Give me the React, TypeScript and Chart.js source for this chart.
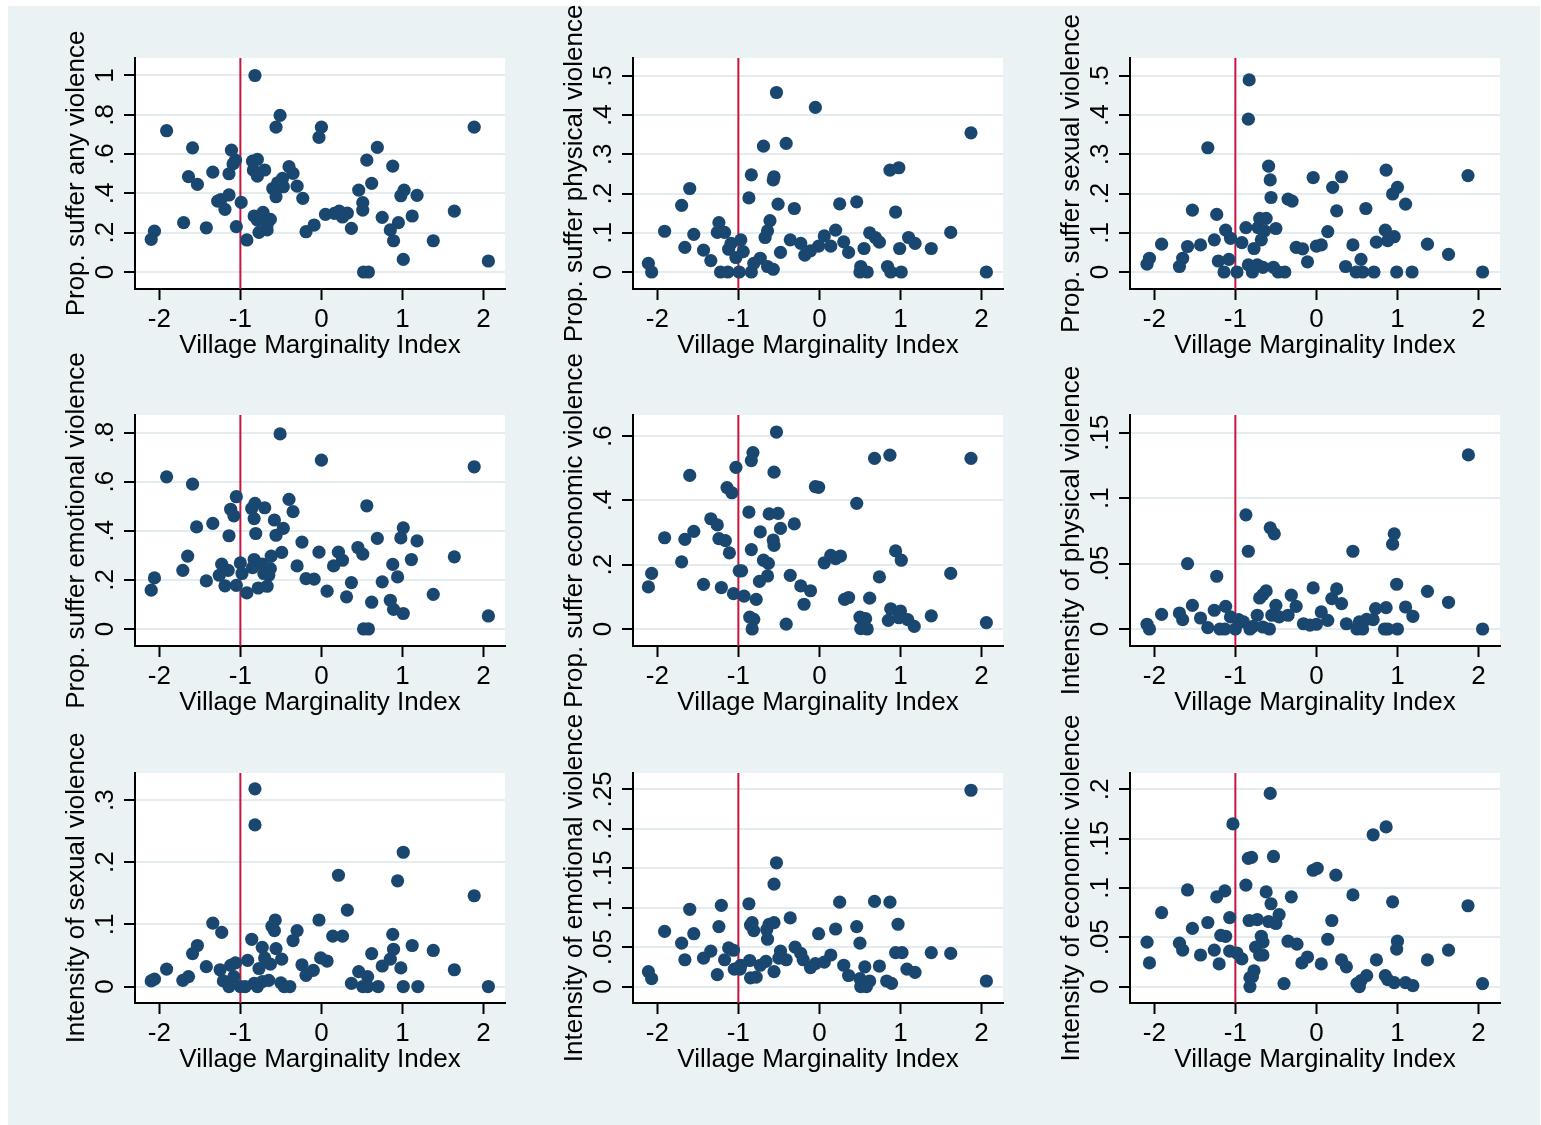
import React, { useEffect, useRef } from 'react';
import { Chart, registerables } from 'chart.js';

Chart.register(...registerables);

// ---------- data ----------
const xTicks = [-2, -1, 0, 1, 2];
const xTickLabels = ['-2', '-1', '0', '1', '2'];
const xTitle = 'Village Marginality Index';
const cutoff = -1;

const anyViolence: [number, number][] = [
  [-0.82, 1.0], [-0.51, 0.797], [-0.56, 0.737], [0.0, 0.737], [-0.03, 0.685], [1.885, 0.737], [-1.91, 0.719],
  [-1.59, 0.632], [-1.11, 0.62], [0.69, 0.634], [-1.06, 0.569], [-1.09, 0.55], [-1.14, 0.5], [-1.34, 0.508],
  [-1.64, 0.485], [-1.53, 0.446], [-0.85, 0.564], [-0.79, 0.573], [-0.84, 0.519], [-0.79, 0.488], [-0.7, 0.519],
  [-0.4, 0.536], [-0.35, 0.502], [-0.48, 0.476], [-0.54, 0.454], [-0.47, 0.434], [-0.6, 0.425], [-0.3, 0.437],
  [-0.56, 0.383], [-0.23, 0.375], [0.56, 0.569], [0.88, 0.539], [0.62, 0.451], [0.46, 0.417], [0.51, 0.353],
  [0.51, 0.315], [1.02, 0.417], [0.98, 0.388], [1.18, 0.39], [1.64, 0.31], [1.12, 0.285], [0.75, 0.278],
  [0.95, 0.251], [0.85, 0.214], [0.89, 0.159], [1.38, 0.159], [1.01, 0.064], [2.06, 0.056], [0.52, 0], [0.58, 0],
  [0.05, 0.293], [0.16, 0.298], [0.22, 0.31], [0.32, 0.3], [0.26, 0.28], [0.37, 0.222], [-0.09, 0.239],
  [-0.19, 0.205], [-0.99, 0.354], [-1.14, 0.392], [-1.24, 0.369], [-1.28, 0.361], [-1.19, 0.319], [-1.7, 0.251],
  [-1.42, 0.225], [-1.05, 0.231], [-0.92, 0.163], [-2.06, 0.208], [-2.1, 0.166], [-0.83, 0.285], [-0.79, 0.264],
  [-0.72, 0.303], [-0.63, 0.268], [-0.77, 0.202], [-0.67, 0.214], [-0.67, 0.239],
];

const physicalProp: [number, number][] = [
  [-0.53, 0.458], [-0.05, 0.42], [1.87, 0.355], [-0.69, 0.321], [-0.41, 0.328], [0.87, 0.26], [0.98, 0.266],
  [-0.84, 0.248], [-0.56, 0.243], [-0.57, 0.235], [-1.6, 0.213], [-1.7, 0.17], [-0.87, 0.189], [-0.51, 0.173],
  [-0.31, 0.162], [0.25, 0.174], [0.46, 0.179], [0.94, 0.153], [-1.24, 0.126], [-1.26, 0.101], [-1.17, 0.101],
  [-1.91, 0.104], [-1.55, 0.096], [-0.61, 0.131], [-0.64, 0.105], [-0.67, 0.088], [-0.97, 0.082], [-1.09, 0.073],
  [-1.12, 0.058], [-0.94, 0.052], [-1.03, 0.037], [-1.43, 0.056], [-1.66, 0.063], [-1.34, 0.029], [-2.11, 0.022],
  [-2.07, 0], [-1.22, 0], [-1.13, 0], [-0.99, 0], [-0.84, 0], [-0.81, 0.022], [-0.73, 0.035], [-0.64, 0.014],
  [-0.57, 0.007], [-0.48, 0.05], [-0.36, 0.082], [-0.23, 0.073], [-0.18, 0.043], [-0.11, 0.054], [-0.01, 0.066],
  [0.06, 0.092], [0.14, 0.066], [0.2, 0.107], [0.3, 0.077], [0.36, 0.05], [0.55, 0.06], [0.51, 0.014], [0.5, 0],
  [0.59, 0], [0.62, 0.1], [0.69, 0.088], [0.74, 0.076], [0.84, 0.014], [0.88, 0], [1.01, 0], [0.99, 0.06],
  [1.1, 0.088], [1.18, 0.073], [1.38, 0.06], [1.62, 0.101], [2.06, 0],
];

const sexualProp: [number, number][] = [
  [-0.83, 0.49], [-0.84, 0.39], [-1.34, 0.317], [-0.59, 0.27], [-0.57, 0.235], [-0.56, 0.19], [-0.04, 0.241],
  [0.31, 0.243], [0.2, 0.216], [0.86, 0.26], [1.87, 0.246], [1.0, 0.216], [0.94, 0.199], [1.1, 0.173],
  [-0.35, 0.186], [-0.3, 0.181], [-1.53, 0.158], [-1.23, 0.147], [0.25, 0.156], [0.61, 0.162], [-0.7, 0.137],
  [-0.62, 0.137], [-0.87, 0.113], [-0.72, 0.113], [-0.5, 0.111], [-0.64, 0.105], [-1.12, 0.107], [-1.06, 0.086],
  [0.14, 0.103], [0.85, 0.107], [0.96, 0.09], [0.88, 0.08], [0.74, 0.076], [1.37, 0.071], [0.45, 0.069],
  [0.0, 0.066], [0.06, 0.069], [-0.25, 0.063], [-0.17, 0.059], [-0.11, 0.026], [-0.68, 0.082], [-0.77, 0.06],
  [-0.92, 0.075], [-1.26, 0.082], [-1.43, 0.069], [-1.59, 0.065], [-1.91, 0.071], [-1.65, 0.035], [-1.69, 0.014],
  [-2.06, 0.035], [-2.09, 0.02], [-1.21, 0.028], [-1.08, 0.032], [-1.14, 0], [-0.98, 0], [-0.84, 0.018],
  [-0.79, 0], [-0.73, 0.018], [-0.66, 0.012], [-0.53, 0.012], [-0.47, 0], [-0.39, 0], [0.36, 0.014],
  [0.55, 0.032], [0.49, 0], [0.57, 0], [0.71, 0], [0.99, 0], [1.18, 0], [1.63, 0.045], [2.05, 0],
];

const emotionalProp: [number, number][] = [
  [-0.51, 0.795], [0.0, 0.688], [1.885, 0.661], [-1.91, 0.62], [-1.59, 0.59], [-1.05, 0.539], [-1.12, 0.488],
  [-1.08, 0.461], [-1.14, 0.38], [-1.34, 0.43], [-1.54, 0.416], [-1.65, 0.297], [-1.71, 0.239], [-1.42, 0.196],
  [-2.06, 0.208], [-2.1, 0.158], [-0.82, 0.512], [-0.86, 0.491], [-0.7, 0.494], [-0.83, 0.45], [-0.81, 0.389],
  [-0.4, 0.528], [-0.35, 0.478], [-0.58, 0.444], [-0.47, 0.41], [-0.56, 0.382], [-0.24, 0.354], [-0.49, 0.312],
  [-0.62, 0.297], [-0.03, 0.313], [0.56, 0.502], [0.69, 0.369], [0.45, 0.332], [0.51, 0.305], [0.21, 0.313],
  [0.26, 0.28], [0.15, 0.257], [-0.3, 0.257], [1.01, 0.412], [0.98, 0.371], [1.18, 0.359], [1.64, 0.294],
  [1.11, 0.283], [0.88, 0.263], [0.94, 0.212], [0.75, 0.192], [0.37, 0.189], [-0.19, 0.205], [-0.09, 0.203],
  [0.07, 0.154], [0.31, 0.131], [0.62, 0.109], [0.85, 0.117], [0.89, 0.08], [1.01, 0.063], [1.38, 0.141],
  [2.06, 0.053], [0.52, 0], [0.58, 0], [-1.0, 0.269], [-0.98, 0.226], [-1.05, 0.178], [-0.92, 0.147],
  [-1.23, 0.264], [-1.15, 0.239], [-1.26, 0.219], [-1.19, 0.176], [-0.83, 0.283], [-0.85, 0.25], [-0.73, 0.264],
  [-0.63, 0.246], [-0.71, 0.226], [-0.65, 0.219], [-0.78, 0.167], [-0.67, 0.174],
];

const economicProp: [number, number][] = [
  [-0.53, 0.613], [-0.82, 0.549], [-0.84, 0.524], [0.87, 0.541], [0.68, 0.531], [1.87, 0.531], [-1.6, 0.478],
  [-1.03, 0.503], [-0.56, 0.488], [-1.14, 0.44], [-1.08, 0.424], [-0.05, 0.443], [-0.01, 0.441], [0.46, 0.391],
  [-0.87, 0.364], [-0.62, 0.358], [-0.51, 0.36], [-1.34, 0.343], [-1.26, 0.324], [-0.31, 0.327], [-0.48, 0.313],
  [-0.73, 0.302], [-1.55, 0.304], [-1.91, 0.284], [-1.66, 0.279], [-1.24, 0.281], [-1.16, 0.275], [-0.57, 0.277],
  [-0.56, 0.26], [-0.84, 0.247], [-1.11, 0.237], [0.94, 0.243], [1.01, 0.214], [-0.69, 0.214], [-0.63, 0.204],
  [0.06, 0.206], [0.14, 0.229], [0.2, 0.219], [0.26, 0.227], [-1.7, 0.209], [-2.07, 0.173], [-2.11, 0.131],
  [-0.99, 0.181], [-0.96, 0.181], [-0.64, 0.165], [-0.74, 0.148], [-0.36, 0.167], [-0.23, 0.134], [-0.11, 0.119],
  [-0.19, 0.077], [-1.43, 0.139], [-1.21, 0.129], [-1.06, 0.11], [-0.93, 0.102], [-0.78, 0.092], [1.62, 0.173],
  [0.74, 0.162], [0.31, 0.092], [0.36, 0.098], [0.62, 0.096], [0.88, 0.063], [1.0, 0.056], [1.38, 0.041],
  [0.98, 0.035], [1.09, 0.029], [0.85, 0.027], [1.17, 0.008], [2.06, 0.02], [0.5, 0.037], [0.57, 0.032],
  [0.51, 0.001], [0.59, 0], [-0.86, 0.037], [-0.81, 0.03], [-0.83, 0], [-0.41, 0.015],
];

const physicalIntensity: [number, number][] = [
  [1.875, 0.133], [-0.87, 0.0872], [-0.84, 0.0594], [-0.57, 0.0773], [-0.52, 0.0727], [0.96, 0.0727],
  [0.94, 0.0648], [0.45, 0.0594], [-1.59, 0.05], [-1.23, 0.0403], [0.99, 0.0342], [-0.04, 0.0314], [0.25, 0.0306],
  [1.37, 0.0288], [-0.62, 0.0291], [-0.66, 0.0263], [-0.7, 0.0237], [-0.31, 0.0258], [1.63, 0.0204],
  [0.19, 0.0232], [0.31, 0.0194], [-0.25, 0.0173], [-0.5, 0.0181], [-1.53, 0.0181], [-1.12, 0.0173],
  [1.1, 0.0168], [0.86, 0.0163], [0.73, 0.0156], [-1.26, 0.0143], [-1.69, 0.0122], [-1.91, 0.0112],
  [-1.65, 0.0071], [-1.43, 0.0084], [-2.09, 0.0036], [-2.06, 0], [-1.34, 0.001], [-1.19, 0], [-1.13, 0],
  [-1.06, 0.0092], [-1.0, 0], [-0.96, 0.0071], [-0.9, 0.0054], [-0.82, 0], [-0.78, 0.002], [-0.73, 0.0105],
  [-0.66, 0.0015], [-0.58, 0], [-0.55, 0.0105], [-0.46, 0.0092], [-0.35, 0.0105], [-0.16, 0.004], [-0.08, 0.003],
  [0.0, 0.0036], [0.06, 0.013], [0.14, 0.0066], [0.37, 0.004], [0.5, 0], [0.57, 0], [0.53, 0.0054],
  [0.62, 0.0074], [0.7, 0.0071], [0.84, 0], [0.88, 0], [1.0, 0], [1.19, 0.0097], [2.05, 0],
];

const sexualIntensity: [number, number][] = [
  [-0.82, 0.318], [-0.82, 0.26], [1.01, 0.216], [0.21, 0.179], [0.94, 0.17], [1.885, 0.146], [0.32, 0.123],
  [-0.03, 0.107], [-1.34, 0.102], [-0.57, 0.107], [-0.61, 0.097], [-0.58, 0.09], [-1.23, 0.087], [-0.3, 0.09],
  [-0.35, 0.074], [0.14, 0.081], [0.26, 0.081], [0.88, 0.084], [-0.86, 0.076], [-0.73, 0.063], [-0.56, 0.061],
  [-1.53, 0.066], [-1.59, 0.053], [0.62, 0.053], [1.12, 0.066], [1.38, 0.058], [0.89, 0.06], [0.85, 0.044],
  [-0.01, 0.046], [0.07, 0.041], [-0.49, 0.044], [-0.7, 0.046], [-0.63, 0.036], [-0.91, 0.042], [-1.06, 0.038],
  [-1.12, 0.034], [-0.77, 0.029], [-1.42, 0.032], [-0.24, 0.035], [-0.1, 0.026], [-0.19, 0.018], [-1.25, 0.027],
  [0.75, 0.033], [0.98, 0.03], [1.64, 0.027], [0.46, 0.024], [0.57, 0.016], [0.37, 0.005], [-1.91, 0.028],
  [-1.64, 0.016], [-1.71, 0.01], [-2.06, 0.012], [-2.1, 0.009], [-1.21, 0.009], [-1.08, 0.016], [-1.14, 0],
  [-1.0, 0], [-0.94, 0], [-0.83, 0.005], [-0.79, 0], [-0.73, 0.008], [-0.65, 0.01], [-0.5, 0.006], [-0.46, 0],
  [-0.39, 0], [0.51, 0], [0.57, 0], [0.7, 0], [1.01, 0], [1.19, 0], [2.06, 0],
];

const emotionalIntensity: [number, number][] = [
  [1.87, 0.249], [-0.53, 0.157], [-0.56, 0.13], [-1.21, 0.103], [-0.87, 0.105], [0.25, 0.107], [0.68, 0.108],
  [0.87, 0.107], [-1.6, 0.098], [-0.36, 0.087], [0.97, 0.079], [-0.83, 0.081], [-0.85, 0.078], [-0.81, 0.071],
  [-0.62, 0.079], [-0.56, 0.081], [-0.65, 0.072], [-0.64, 0.06], [-1.24, 0.076], [0.2, 0.073], [0.46, 0.076],
  [-1.91, 0.07], [-1.55, 0.067], [-0.01, 0.067], [-1.7, 0.055], [0.5, 0.055], [-1.12, 0.049], [-1.06, 0.046],
  [-0.3, 0.05], [-0.23, 0.042], [-0.48, 0.045], [0.14, 0.04], [0.94, 0.043], [1.02, 0.043], [1.38, 0.043],
  [1.62, 0.042], [-1.34, 0.045], [-1.43, 0.036], [-1.66, 0.034], [-1.17, 0.034], [-0.5, 0.036], [-0.41, 0.034],
  [-0.2, 0.034], [-0.86, 0.033], [-0.66, 0.032], [-0.73, 0.027], [-0.97, 0.027], [-1.05, 0.022], [-0.98, 0.022],
  [-0.05, 0.029], [0.06, 0.031], [-0.11, 0.024], [0.3, 0.027], [0.74, 0.026], [0.56, 0.025], [1.08, 0.022],
  [1.18, 0.018], [-0.56, 0.019], [-1.26, 0.015], [0.36, 0.014], [-0.78, 0.012], [-0.85, 0.011], [-2.11, 0.019],
  [-2.07, 0.01], [0.5, 0.01], [0.62, 0.007], [0.83, 0.007], [0.89, 0.004], [0.51, 0], [0.58, 0], [2.06, 0.007],
];

const economicIntensity: [number, number][] = [
  [-0.57, 0.196], [-1.03, 0.165], [0.86, 0.162], [0.7, 0.154], [-0.84, 0.13], [-0.8, 0.131], [-0.53, 0.132],
  [-0.04, 0.118], [0.01, 0.12], [0.24, 0.113], [-0.87, 0.103], [-1.59, 0.098], [-1.13, 0.097], [-1.23, 0.091],
  [-0.62, 0.096], [-0.31, 0.091], [0.45, 0.093], [-0.56, 0.084], [0.94, 0.086], [1.87, 0.082], [-1.91, 0.075],
  [-0.46, 0.073], [-1.07, 0.07], [-0.83, 0.067], [-0.73, 0.068], [-0.59, 0.066], [-0.5, 0.064], [0.19, 0.067],
  [-1.34, 0.065], [-1.53, 0.059], [-1.18, 0.052], [-1.12, 0.051], [-0.68, 0.051], [-0.66, 0.045], [-0.35, 0.046],
  [-0.24, 0.043], [0.14, 0.048], [1.0, 0.046], [0.99, 0.038], [-2.09, 0.045], [-1.69, 0.044], [-1.65, 0.037],
  [-1.26, 0.037], [1.63, 0.037], [-1.07, 0.036], [-0.98, 0.034], [-0.75, 0.04], [-0.7, 0.032], [-0.66, 0.032],
  [-1.43, 0.032], [-0.92, 0.028], [-0.11, 0.03], [0.31, 0.027], [0.74, 0.027], [1.37, 0.027], [-2.06, 0.024],
  [-1.2, 0.023], [-0.18, 0.024], [0.06, 0.023], [0.37, 0.02], [-0.77, 0.016], [-0.82, 0.009], [-0.79, 0.01],
  [-0.82, 0], [-0.4, 0.003], [0.62, 0.011], [0.55, 0.006], [0.5, 0.003], [0.53, 0], [0.85, 0.011], [0.88, 0.007],
  [0.96, 0.004], [1.1, 0.004], [1.19, 0.001], [2.05, 0.003],
];

const panelTitles = [
  'Prop. suffer any violence', 'Prop. suffer physical violence', 'Prop. suffer sexual violence',
  'Prop. suffer emotional violence', 'Prop. suffer economic violence', 'Intensity of physical violence',
  'Intensity of sexual violence', 'Intensity of emotional violence', 'Intensity of economic violence',
];
const panelData = [
  anyViolence, physicalProp, sexualProp, emotionalProp, economicProp, physicalIntensity,
  sexualIntensity, emotionalIntensity, economicIntensity,
];
const yTickValues = [
  [0, 0.2, 0.4, 0.6, 0.8, 1], [0, 0.1, 0.2, 0.3, 0.4, 0.5], [0, 0.1, 0.2, 0.3, 0.4, 0.5],
  [0, 0.2, 0.4, 0.6, 0.8], [0, 0.2, 0.4, 0.6], [0, 0.05, 0.1, 0.15],
  [0, 0.1, 0.2, 0.3], [0, 0.05, 0.1, 0.15, 0.2, 0.25], [0, 0.05, 0.1, 0.15, 0.2],
];
const yTickLabels = [
  ['0', '.2', '.4', '.6', '.8', '1'], ['0', '.1', '.2', '.3', '.4', '.5'], ['0', '.1', '.2', '.3', '.4', '.5'],
  ['0', '.2', '.4', '.6', '.8'], ['0', '.2', '.4', '.6'], ['0', '.05', '.1', '.15'],
  ['0', '.1', '.2', '.3'], ['0', '.05', '.1', '.15', '.2', '.25'], ['0', '.05', '.1', '.15', '.2'],
];
const yRanges: [number, number][] = [
  [-0.0865, 1.089], [-0.0434, 0.546], [-0.0434, 0.546],
  [-0.0694, 0.872], [-0.053, 0.666], [-0.013, 0.1635],
  [-0.0265, 0.3435], [-0.0209, 0.2709], [-0.0167, 0.2167],
];
const xRange: [number, number] = [-2.3, 2.265];

// ---------- layout / style ----------
const FONT = "'Liberation Sans', Arial, Helvetica, sans-serif";
const FS = 26;
const colLefts = [135, 633, 1130];
const rowTops = [58, 415, 773];
const rowHeights = [231, 231, 230];
const AREA_W = 370;
const PAD_L = 26, Y_AXIS_W = 74, PAD_T = 80, PAD_R = 30, X_AXIS_H = 72, PAD_B = 58;
const TICK_LEN = 11;
const DOT = '#1A476F';
const RED = '#C8143C';
const GRID = '#E4ECEF';
const INK = '#000000';

const plotBg = {
  id: 'plotBg',
  beforeDraw(chart: any) {
    const { ctx, chartArea: a } = chart;
    ctx.save();
    ctx.fillStyle = '#ffffff';
    ctx.fillRect(a.left, a.top, a.right - a.left, a.bottom - a.top);
    ctx.restore();
  },
};

function Panel({ idx }: { idx: number }) {
  const ref = useRef<HTMLCanvasElement>(null);
  const col = idx % 3;
  const row = Math.floor(idx / 3);
  const L = colLefts[col];
  const T = rowTops[row];
  const H = rowHeights[row];
  const cw = PAD_L + Y_AXIS_W + AREA_W + PAD_R;
  const ch = PAD_T + H + X_AXIS_H + PAD_B;

  useEffect(() => {
    const canvas = ref.current!;
    const labels = yTickLabels[idx];
    const vals = yTickValues[idx];
    const m = document.createElement('canvas').getContext('2d')!;
    m.font = `normal ${FS}px ${FONT}`;
    const widest = Math.max(...labels.map((l) => m.measureText(l).width));
    const yPad = 29 - TICK_LEN - widest / 2;
    const [ymin, ymax] = yRanges[idx];
    const pts = panelData[idx].map(([x, y]) => ({ x, y }));

    const chart = new Chart(canvas, {
      type: 'scatter',
      data: {
        datasets: [
          {
            data: pts,
            pointRadius: 6.6,
            pointHoverRadius: 6.6,
            pointBackgroundColor: DOT,
            pointBorderWidth: 0,
            showLine: false,
          } as any,
          {
            data: [{ x: cutoff, y: ymin }, { x: cutoff, y: ymax }],
            showLine: true,
            pointRadius: 0,
            borderColor: RED,
            borderWidth: 2,
          } as any,
        ],
      },
      options: {
        animation: false,
        responsive: false,
        events: [],
        layout: { padding: { left: PAD_L, top: PAD_T, right: PAD_R, bottom: PAD_B } },
        plugins: { legend: { display: false }, tooltip: { enabled: false } },
        scales: {
          x: {
            type: 'linear',
            min: xRange[0],
            max: xRange[1],
            afterBuildTicks: (s: any) => { s.ticks = xTicks.map((v) => ({ value: v })); },
            afterFit: (s: any) => { s.height = X_AXIS_H; },
            ticks: {
              autoSkip: false,
              maxRotation: 0,
              minRotation: 0,
              padding: 4,
              color: INK,
              font: { family: FONT, size: FS },
              callback: (v: any) => xTickLabels[xTicks.indexOf(Number(v))] ?? '',
            },
            grid: { drawOnChartArea: false, drawTicks: true, tickLength: TICK_LEN, tickColor: INK, tickWidth: 2 },
            border: { display: true, color: INK, width: 2 },
            title: { display: true, text: xTitle, color: INK, font: { family: FONT, size: FS }, padding: 0 },
          },
          y: {
            type: 'linear',
            min: ymin,
            max: ymax,
            afterBuildTicks: (s: any) => { s.ticks = vals.map((v) => ({ value: v })); },
            afterFit: (s: any) => { s.width = Y_AXIS_W; },
            ticks: {
              autoSkip: false,
              minRotation: 90,
              maxRotation: 90,
              crossAlign: 'center',
              padding: yPad,
              color: INK,
              font: { family: FONT, size: FS },
              callback: (v: any) => {
                const i = vals.findIndex((t) => Math.abs(t - Number(v)) < 1e-9);
                return i >= 0 ? labels[i] : '';
              },
            },
            grid: { color: GRID, lineWidth: 2, drawTicks: true, tickLength: TICK_LEN, tickColor: INK, tickWidth: 2 },
            border: { display: true, color: INK, width: 2 },
            title: { display: true, text: panelTitles[idx], color: INK, font: { family: FONT, size: FS }, padding: 0 },
          },
        },
      } as any,
      plugins: [plotBg],
    });
    return () => chart.destroy();
  }, [idx]);

  return (
    <canvas
      ref={ref}
      width={cw}
      height={ch}
      style={{ position: 'absolute', left: L - PAD_L - Y_AXIS_W, top: T - PAD_T, width: cw, height: ch }}
    />
  );
}

export default function App() {
  return (
    <div style={{ position: 'absolute', left: 0, top: 0, width: 1541, height: 1125, overflow: 'hidden', background: '#ffffff' }}>
      <div style={{ position: 'absolute', left: 8, top: 6, width: 1532, height: 1119, background: '#EAF2F3' }} />
      {panelTitles.map((_, i) => (
        <Panel key={i} idx={i} />
      ))}
    </div>
  );
}
